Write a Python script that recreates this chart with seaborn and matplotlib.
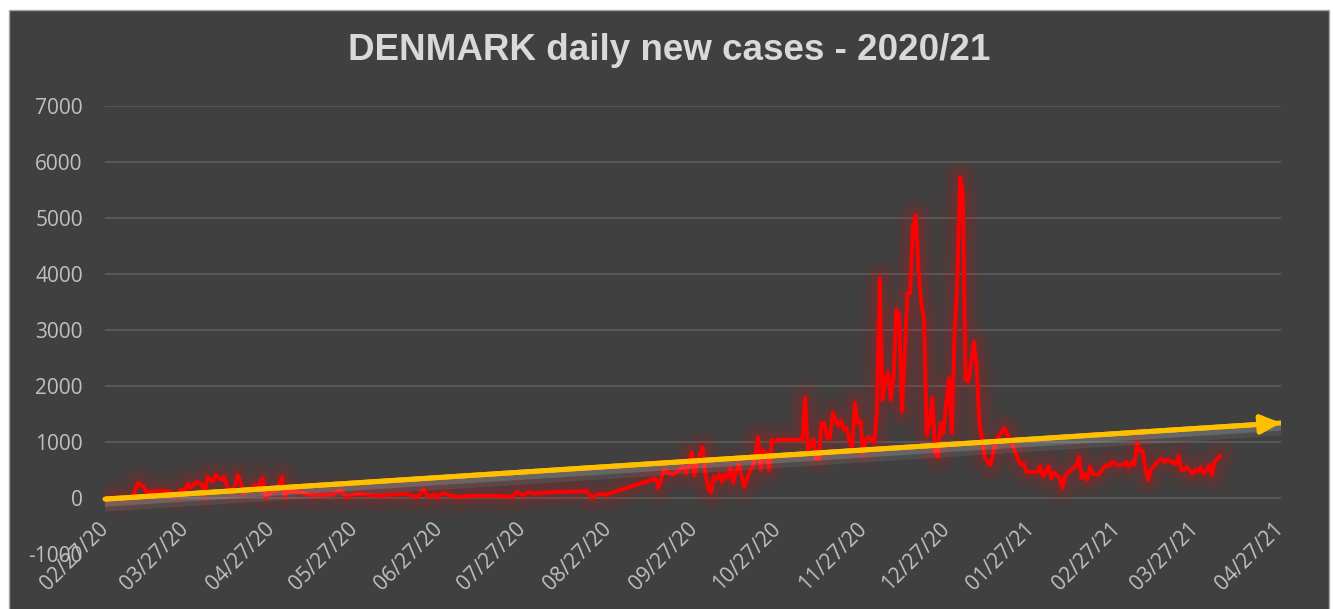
import numpy as np
import pandas as pd
import matplotlib
matplotlib.use("Agg")
import matplotlib.pyplot as plt
import matplotlib.patheffects as pe
from matplotlib.patches import Rectangle
import seaborn as sns

TITLE = "DENMARK daily new cases - 2020/21"

dates = [
    "2020-02-27", "2020-03-05", "2020-03-08", "2020-03-10", "2020-03-12", "2020-03-13",
    "2020-03-15", "2020-03-18", "2020-03-21", "2020-03-24", "2020-03-25", "2020-03-27",
    "2020-03-28", "2020-03-29", "2020-03-31", "2020-04-02", "2020-04-03", "2020-04-04",
    "2020-04-06", "2020-04-07", "2020-04-09", "2020-04-10", "2020-04-11", "2020-04-13",
    "2020-04-14", "2020-04-15", "2020-04-16", "2020-04-17", "2020-04-19", "2020-04-21",
    "2020-04-22", "2020-04-24", "2020-04-25", "2020-04-27", "2020-04-29", "2020-05-01",
    "2020-05-02", "2020-05-03", "2020-05-07", "2020-05-12", "2020-05-19", "2020-05-22",
    "2020-05-24", "2020-05-27", "2020-05-29",
    "2020-06-05", "2020-06-10", "2020-06-15", "2020-06-19", "2020-06-21", "2020-06-23",
    "2020-06-25", "2020-06-26", "2020-06-28", "2020-07-01", "2020-07-04", "2020-07-08",
    "2020-07-16", "2020-07-22", "2020-07-23", "2020-07-25", "2020-07-27", "2020-07-29",
    "2020-07-31", "2020-08-09", "2020-08-19", "2020-08-21", "2020-08-23", "2020-08-26",
    "2020-09-13", "2020-09-14", "2020-09-16", "2020-09-19", "2020-09-21", "2020-09-23",
    "2020-09-24", "2020-09-25", "2020-09-26", "2020-09-27", "2020-09-28", "2020-09-30",
    "2020-10-01", "2020-10-02", "2020-10-03", "2020-10-04", "2020-10-05", "2020-10-06",
    "2020-10-07", "2020-10-08", "2020-10-09", "2020-10-10", "2020-10-11", "2020-10-12",
    "2020-10-13", "2020-10-15", "2020-10-17", "2020-10-18", "2020-10-19", "2020-10-20",
    "2020-10-21", "2020-10-22", "2020-10-23", "2020-10-24", "2020-10-25", "2020-10-26",
    "2020-10-27", "2020-11-05", "2020-11-06", "2020-11-07", "2020-11-09", "2020-11-10",
    "2020-11-11", "2020-11-12", "2020-11-13", "2020-11-14", "2020-11-15", "2020-11-16",
    "2020-11-18", "2020-11-19", "2020-11-20", "2020-11-21", "2020-11-22", "2020-11-23",
    "2020-11-24", "2020-11-25", "2020-11-26", "2020-11-27", "2020-11-28", "2020-11-29",
    "2020-11-30", "2020-12-01", "2020-12-02", "2020-12-03", "2020-12-04", "2020-12-05",
    "2020-12-06", "2020-12-07", "2020-12-08", "2020-12-09", "2020-12-10", "2020-12-11",
    "2020-12-12", "2020-12-13", "2020-12-14", "2020-12-15", "2020-12-16", "2020-12-17",
    "2020-12-18", "2020-12-19", "2020-12-20", "2020-12-21", "2020-12-22", "2020-12-23",
    "2020-12-24", "2020-12-25", "2020-12-26", "2020-12-27", "2020-12-28", "2020-12-29",
    "2020-12-30", "2020-12-31", "2021-01-01", "2021-01-02", "2021-01-03", "2021-01-04",
    "2021-01-05", "2021-01-06", "2021-01-07", "2021-01-08", "2021-01-09", "2021-01-10",
    "2021-01-12", "2021-01-13", "2021-01-14", "2021-01-16", "2021-01-17", "2021-01-19",
    "2021-01-20", "2021-01-22", "2021-01-23", "2021-01-24", "2021-01-25", "2021-01-29",
    "2021-01-30", "2021-01-31", "2021-02-01", "2021-02-02", "2021-02-03", "2021-02-04",
    "2021-02-05", "2021-02-06", "2021-02-07", "2021-02-08", "2021-02-09", "2021-02-11",
    "2021-02-12", "2021-02-13", "2021-02-14", "2021-02-15", "2021-02-16", "2021-02-17",
    "2021-02-18", "2021-02-20", "2021-02-22", "2021-02-23", "2021-02-24", "2021-02-25",
    "2021-02-27", "2021-03-01", "2021-03-02", "2021-03-03", "2021-03-04", "2021-03-05",
    "2021-03-06", "2021-03-07", "2021-03-08", "2021-03-09", "2021-03-10", "2021-03-11",
    "2021-03-12", "2021-03-13", "2021-03-15", "2021-03-16", "2021-03-17", "2021-03-18",
    "2021-03-20", "2021-03-21", "2021-03-22", "2021-03-23", "2021-03-24", "2021-03-26",
    "2021-03-27", "2021-03-28", "2021-03-29", "2021-03-30", "2021-03-31", "2021-04-01",
    "2021-04-02", "2021-04-03", "2021-04-05",
]

cases = [
    0, 10, 30, 270, 200, 90,
    120, 130, 120, 40, 140, 150,
    260, 180, 290, 240, 50, 380,
    290, 410, 320, 380, 230, 90,
    230, 410, 280, 90, 150, 230,
    190, 350, 20, 100, 130, 380,
    20, 120, 110, 50, 60, 140,
    20, 60, 70,
    40, 60, 70, 20, 150, 20,
    70, 10, 90, 40, 20, 40,
    40, 30, 10, 110, 40, 110,
    80, 110, 120, 10, 70, 60,
    350, 180, 500, 410, 480, 550,
    430, 570, 820, 400, 640, 910,
    420, 200, 90, 380, 330, 430,
    290, 420, 360, 540, 270, 470,
    600, 200, 480, 540, 730, 1090,
    500, 850, 800, 500, 1040, 1000,
    1040, 1040, 1790, 850, 1060, 710,
    700, 1340, 1340, 1070, 1070, 1520,
    1290, 1380, 1220, 1250, 1020, 910,
    1700, 1340, 1380, 800, 1040, 1090,
    1040, 980, 1570, 3930, 1750, 2110,
    2250, 1750, 2160, 3360, 3270, 1540,
    2520, 3660, 3660, 4840, 5050, 4070,
    3480, 3180, 1120, 1340, 1790, 820,
    730, 1340, 1160, 1700, 2140, 1160,
    2880, 3840, 5730, 5450, 2110, 2080,
    2410, 2790, 2340, 1340, 1040, 710,
    590, 800, 1040, 1160, 1250, 1040,
    950, 680, 600, 620, 460, 460,
    570, 380, 460, 570, 350, 460,
    410, 350, 180, 410, 450, 540,
    570, 730, 350, 430, 320, 560,
    430, 410, 550, 590, 570, 640,
    590, 590, 640, 550, 640, 590,
    980, 840, 840, 520, 320, 520,
    550, 640, 700, 640, 680, 660,
    600, 750, 500, 500, 550, 430,
    500, 470, 550, 440, 480, 590,
    410, 640, 750,
]

trend_dates = ["2020-02-27", "2021-04-27"]
trend_values = [-20, 1340]

x_tick_labels = ["02/27/20", "03/27/20", "04/27/20", "05/27/20", "06/27/20", "07/27/20",
                 "08/27/20", "09/27/20", "10/27/20", "11/27/20", "12/27/20", "01/27/21",
                 "02/27/21", "03/27/21", "04/27/21"]
y_ticks = [-1000, 0, 1000, 2000, 3000, 4000, 5000, 6000, 7000]

BG = "#404040"

sns.set_theme(style="dark")
plt.rcParams["font.family"] = ["Open Sans", "DejaVu Sans"]
plt.rcParams["axes.unicode_minus"] = False

W, H = 1333, 609
fig = plt.figure(figsize=(W / 100, H / 100), dpi=100, facecolor="white")
bg = Rectangle((9 / W, -0.02), (1329 - 9) / W, 1.02 - 9.5 / H,
               transform=fig.transFigure, facecolor=BG,
               edgecolor="#a6a6a6", linewidth=1.0, zorder=-10)
fig.patches.append(bg)

ax = fig.add_axes([105 / W, 1 - 554 / H, 1176 / W, 448 / H])
ax.set_zorder(5)
ax.set_facecolor("none")
ax.patch.set_alpha(0)

df = pd.DataFrame({"date": pd.to_datetime(dates), "cases": cases})
glow = [
    pe.Stroke(linewidth=26, foreground="#ff0000", alpha=0.045),
    pe.Stroke(linewidth=18, foreground="#ff0000", alpha=0.06),
    pe.Stroke(linewidth=11, foreground="#ff0000", alpha=0.09),
    pe.Normal(),
]
sns.lineplot(data=df, x="date", y="cases", ax=ax, color="#ff0000", linewidth=2.8,
             path_effects=glow, zorder=3)

tdf = pd.DataFrame({"date": pd.to_datetime(trend_dates), "value": trend_values})
shadow = [
    pe.Stroke(offset=(0, -5), linewidth=8, foreground="white", alpha=0.07),
    pe.Stroke(offset=(0, -3), linewidth=5, foreground="white", alpha=0.14),
    pe.Normal(),
]
sns.lineplot(data=tdf, x="date", y="value", ax=ax, color="#ffc000", linewidth=3.6,
             path_effects=shadow, zorder=4)
ax.annotate("", xy=(tdf["date"].iloc[-1], tdf["value"].iloc[-1]),
            xytext=(tdf["date"].iloc[0], tdf["value"].iloc[0]),
            arrowprops=dict(arrowstyle="-|>,head_length=0.85,head_width=0.4",
                            color="#ffc000", lw=3.6, shrinkA=0, shrinkB=0,
                            mutation_scale=14),
            zorder=5)

tick_dates = pd.to_datetime(x_tick_labels, format="%m/%d/%y")
for s in ax.spines.values():
    s.set_visible(False)
ax.spines["bottom"].set_position(("data", 0))

ax.set_xlim(tick_dates[0], tick_dates[-1])
ax.set_ylim(y_ticks[0], y_ticks[-1])
ax.set_xticks(tick_dates)
ax.set_xticklabels(x_tick_labels, rotation=45, ha="right", va="center",
                   rotation_mode="anchor")
ax.set_yticks(y_ticks)
ax.set_yticklabels([str(v) for v in y_ticks])
ax.set_xlabel("")
ax.set_ylabel("")

ax.tick_params(axis="both", length=0, labelcolor="#c0c0c0", labelsize=15)
ax.tick_params(axis="y", pad=16)
ax.tick_params(axis="x", pad=20)

ax.xaxis.grid(False)
ax.yaxis.grid(True, color="#5a5a5a", linewidth=1.3)
ax.set_axisbelow(True)
ax.get_ygridlines()[0].set_visible(False)

fig.text(669 / W, 1 - 51 / H, TITLE, ha="center", va="center", fontsize=26.5,
         fontweight="bold", color="#d9d9d9", family=["Liberation Sans", "DejaVu Sans"])

fig.savefig("out.png", dpi=100, facecolor="white")
